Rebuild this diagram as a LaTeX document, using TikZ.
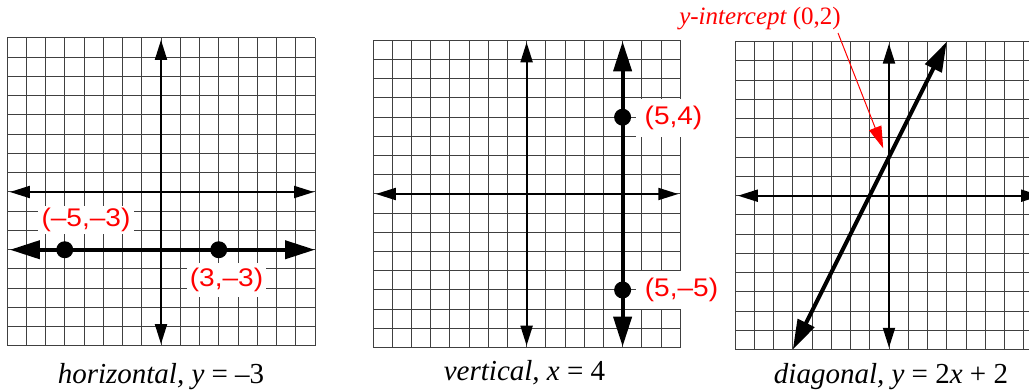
\documentclass[tikz,border=0pt]{standalone}
\usepackage{fontspec}
\usepackage{graphicx}
\setmainfont{Liberation Serif}
\newfontfamily\lblfont{Liberation Sans}
\usetikzlibrary{arrows.meta}
\begin{document}
\begin{tikzpicture}[
  gridline/.style={black!75, line width=1pt},
  axisline/.style={line width=2pt, {Triangle[length=20pt,width=12pt]}-{Triangle[length=20pt,width=12pt]}},
  thickline/.style={line width=4pt, {Triangle[length=30pt,width=18pt]}-{Triangle[length=30pt,width=18pt]}},
  dot/.style={circle, fill=black, minimum size=17pt, inner sep=0pt},
  ptlabel/.style={fill=white, text=red, font=\lblfont\fontsize{25.5}{30}\selectfont, inner sep=3pt},
  caption/.style={anchor=base, font=\fontsize{29}{34}\selectfont},
  gridunits/.style={x=19.25pt, y=19.25pt},
]
\clip (0pt,0pt) rectangle (1029pt,-390pt);
\fill[white] (0pt,0pt) rectangle (1029pt,-390pt);

% ---------- Graph 1: horizontal ----------
\begin{scope}[shift={(161pt,-192pt)}, gridunits]
  \foreach \i in {-8,...,8} {
    \draw[gridline] (\i,-8) -- (\i,8);
    \draw[gridline] (-8,\i) -- (8,\i);
  }
  \coordinate (a1l) at (-7.85,0);
  \coordinate (a1r) at (7.95,0);
  \coordinate (a1t) at (0,7.9);
  \coordinate (a1b) at (0,-7.9);
  \draw[axisline] (a1l) -- (a1r);
  \draw[axisline] (a1b) -- (a1t);
  \coordinate (h1l) at (-7.85,-3);
  \coordinate (h1r) at (8,-3);
  \draw[thickline] (h1l) -- (h1r);
  \node[dot] (p1) at (-5,-3) {};
  \node[dot] (p2) at (3,-3) {};
\end{scope}
\node[ptlabel, inner xsep=4pt, inner ysep=2pt] (l1) at (86pt,-220pt) {\scalebox{1.1}[1]{(–5,–3)}};
\node[ptlabel, inner xsep=3pt, inner ysep=5pt] (l2) at (226.5pt,-280pt) {\scalebox{1.1}[1]{(3,–3)}};
\node[caption] (c1) at (161pt,-383pt) {\itshape horizontal, y \upshape = –3};

% ---------- Graph 2: vertical ----------
\begin{scope}[shift={(526.6pt,-194pt)}, x=19.2pt, y=19.2pt]
  \foreach \i in {-8,...,8} {
    \draw[gridline] (\i,-8) -- (\i,8);
    \draw[gridline] (-8,\i) -- (8,\i);
  }
  \coordinate (a2l) at (-7.85,0);
  \coordinate (a2r) at (7.9,0);
  \coordinate (a2t) at (0,7.9);
  \coordinate (a2b) at (0,-7.9);
  \draw[axisline] (a2l) -- (a2r);
  \draw[axisline] (a2b) -- (a2t);
  \coordinate (v2b) at (5,-7.95);
  \coordinate (v2t) at (5,7.95);
  \draw[thickline] (v2b) -- (v2t);
  \node[dot] (p3) at (5,4) {};
  \node[dot] (p4) at (5,-5) {};
\end{scope}
\node[ptlabel, inner xsep=9pt, inner ysep=7pt] (l3) at (673.5pt,-118pt) {\scalebox{1.1}[1]{(5,4)}};
\node[ptlabel, inner xsep=9pt, inner ysep=7pt] (l4) at (681.5pt,-290pt) {\scalebox{1.1}[1]{(5,–5)}};
\node[caption] (c2) at (524.5pt,-381pt) {\itshape vertical, x \upshape = 4};

% ---------- Graph 3: diagonal ----------
\begin{scope}[shift={(889pt,-195.7pt)}, gridunits]
  \foreach \i in {-8,...,8} {
    \draw[gridline] (\i,-8) -- (\i,8);
    \draw[gridline] (-8,\i) -- (8,\i);
  }
  \coordinate (a3l) at (-7.85,0);
  \coordinate (a3r) at (7.9,0);
  \coordinate (a3t) at (0,7.9);
  \coordinate (a3b) at (0,-7.9);
  \draw[axisline] (a3l) -- (a3r);
  \draw[axisline] (a3b) -- (a3t);
  \coordinate (d3b) at (-5,-8);
  \coordinate (d3t) at (3,8);
  \draw[thickline] (d3b) -- (d3t);
  \coordinate (yint) at (-0.3,2.46);
\end{scope}
\node[anchor=base, text=red, font=\fontsize{25}{30}\selectfont, inner sep=0pt] (yl) at (760pt,-25pt) {\itshape y-intercept \upshape (0,2)};
\coordinate (ystart) at (838pt,-33pt);
\draw[red, line width=1pt, -{Triangle[length=22pt,width=13pt]}] (ystart) -- (yint);
\node[caption] (c3) at (891pt,-383pt) {\itshape diagonal, y \upshape = 2\itshape x \upshape + 2};
\end{tikzpicture}
\end{document}
